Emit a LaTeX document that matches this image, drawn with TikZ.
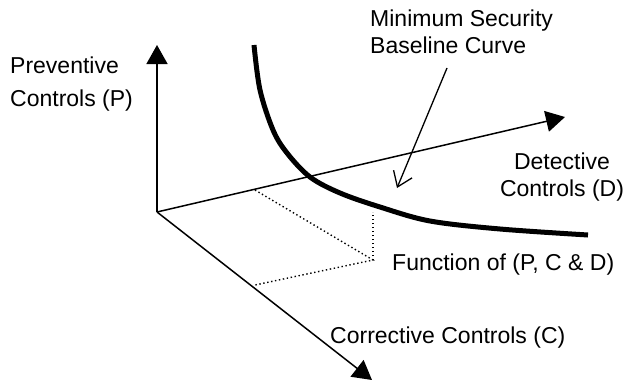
\documentclass[tikz,border=0pt]{standalone}
\usepackage{fontspec}
\setmainfont{Liberation Sans}
\usetikzlibrary{arrows.meta,positioning}

\begin{document}
\begin{tikzpicture}[
  x=1pt, y=-1pt,
  axis/.style={-{Triangle[length=19pt,width=21pt]}, line width=1.5pt},
  guide/.style={line width=1.4pt, dash pattern=on 1.4pt off 2.6pt},
  baseline curve/.style={line width=5pt},
  pointer/.style={-{Straight Barb[length=14pt,width=20pt]}, line width=1.3pt},
  lbl/.style={inner sep=0pt, font=\fontsize{23}{26.5}\selectfont}
]
  \useasboundingbox (0,0) rectangle (631,383);

  % axes
  \coordinate (O)    at (157,212);
  \coordinate (ptip) at (157,45);
  \coordinate (dtip) at (565,117);
  \coordinate (ctip) at (372,380);
  \foreach \t in {ptip,dtip,ctip}
    \draw[axis] (O) -- (\t);

  % projection of the point
  \coordinate (dpt)  at (255,190);
  \coordinate (cpt)  at (255,285);
  \coordinate (fpt)  at (373,260);
  \coordinate (ftop) at (373,212);
  \draw[guide] (dpt) -- (fpt) -- (cpt);
  \draw[guide] (fpt) -- (ftop);

  % minimum security baseline
  \draw[baseline curve] plot[smooth, tension=0.55] coordinates {
    (254,45) (260,90) (273,130) (287,153) (310,177) (340,193)
    (380,207) (430,221) (500,229) (588,235)};

  % labels
  \node[lbl, anchor=north west, align=left, font=\fontsize{23}{33}\selectfont]
    (plbl) at (10,56.5) {Preventive\\Controls (P)};
  \node[lbl, anchor=north west, align=left] (mlbl) at (370,10)
    {Minimum Security\\Baseline Curve};
  \node[lbl, anchor=north, align=center] (dlbl) at (562,153)
    {Detective\\Controls (D)};
  \node[lbl, anchor=base west] (flbl) at (392,270) {Function of (P, C \& D)};
  \node[lbl, anchor=base west] (clbl) at (330,343) {Corrective Controls (C)};

  \coordinate (mtail) at (447,68);
  \coordinate (mhead) at (397,188);
  \draw[pointer] (mtail) -- (mhead);
\end{tikzpicture}
\end{document}
